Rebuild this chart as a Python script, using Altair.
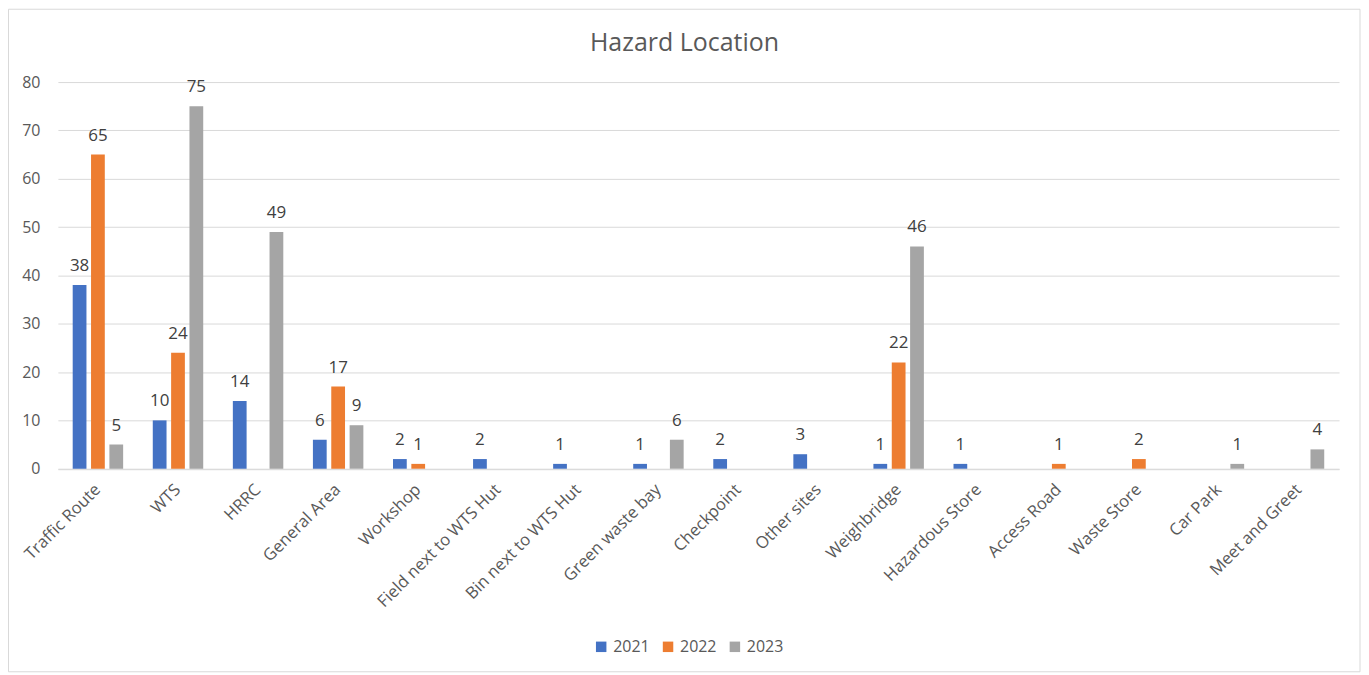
import altair as alt
import pandas as pd

categories = ["Traffic Route", "WTS", "HRRC", "General Area", "Workshop",
              "Field next to WTS Hut", "Bin next to WTS Hut", "Green waste bay",
              "Checkpoint", "Other sites", "Weighbridge", "Hazardous Store",
              "Access Road", "Waste Store", "Car Park", "Meet and Greet"]
years = ["2021", "2022", "2023"]
v2021 = [38, 10, 14, 6, 2, 2, 1, 1, 2, 3, 1, 1, None, None, None, None]
v2022 = [65, 24, None, 17, 1, None, None, None, None, None, 22, None, 1, 2, None, None]
v2023 = [5, 75, 49, 9, None, None, None, 6, None, None, 46, None, None, None, 1, 4]
colors = ["#4472C4", "#ED7D31", "#A5A5A5"]
y_ticks = [0, 10, 20, 30, 40, 50, 60, 70, 80]

rows = []
for yr, vals in zip(years, [v2021, v2022, v2023]):
    for c, v in zip(categories, vals):
        if v is not None:
            rows.append({"Location": c, "Year": yr, "Count": v})
df = pd.DataFrame(rows)

FONT = "Open Sans"
GRID = "#D9D9D9"
TXT = "#595959"

x = alt.X("Location:N", sort=categories,
          scale=alt.Scale(domain=categories, paddingInner=0.37, paddingOuter=0.185),
          axis=alt.Axis(title=None, labelAngle=-45, labelAlign="right", labelBaseline="middle",
                        labelFontSize=16.7, labelColor=TXT, labelFont=FONT, labelPadding=18,
                        ticks=False, domainColor=GRID, domainWidth=1, grid=False,
                        labelOverlap=False))
xo = alt.XOffset("Year:N", scale=alt.Scale(domain=years, paddingInner=0.25, paddingOuter=0))
y = alt.Y("Count:Q", scale=alt.Scale(domain=[0, 80], nice=False),
          axis=alt.Axis(title=None, values=y_ticks, grid=True, gridColor=GRID, domain=False,
                        ticks=False, labelFontSize=16, labelColor=TXT, labelFont=FONT,
                        labelPadding=18))
color = alt.Color("Year:N", scale=alt.Scale(domain=years, range=colors),
                  legend=alt.Legend(title=None, orient="none", direction="horizontal",
                                    legendX=536.5, legendY=558, symbolType="square",
                                    symbolSize=110, symbolStrokeWidth=0, labelFontSize=16,
                                    labelColor=TXT, labelFont=FONT, columnPadding=10,
                                    labelOffset=4))

base = alt.Chart(df)
bars = base.mark_bar().encode(x=x, xOffset=xo, y=y, color=color)
labels = base.mark_text(baseline="alphabetic", dy=-14, fontSize=17, color="#404040",
                        font=FONT).encode(x=alt.X("Location:N", sort=categories),
                                          xOffset=xo, y="Count:Q", text="Count:Q")
border = alt.Chart(pd.DataFrame({"a": [0]})).mark_rect(
    fill="transparent", stroke=GRID, strokeWidth=1).encode(
    x=alt.value(-49.5), x2=alt.value(1305), y=alt.value(-73), y2=alt.value(591))

chart = alt.layer(border, bars, labels).properties(
    width=1284, height=387.5,
    title=alt.TitleParams("Hazard Location", fontSize=25, font=FONT, color=TXT,
                          fontWeight="normal", anchor="middle", dx=-14, offset=-67,
                          baseline="alphabetic"),
    autosize=alt.AutoSizeParams(type="none"),
    padding={"left": 50, "top": 73.5, "right": 22, "bottom": 206},
).configure_view(stroke=None)

chart.save("out.html", embed_options={"renderer": "svg", "actions": False})
